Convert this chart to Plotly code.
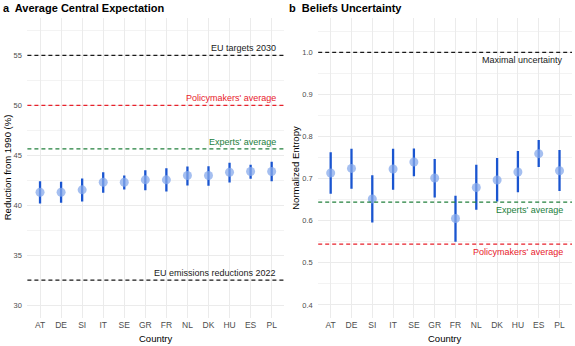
import plotly.graph_objects as go

countries = ["AT", "DE", "SI", "IT", "SE", "GR", "FR", "NL", "DK", "HU", "ES", "PL"]

# Panel a: average central expectation (reduction from 1990, %)
exp_center = [41.3, 41.3, 41.54, 42.3, 42.3, 42.54, 42.54, 42.97, 42.97, 43.3, 43.37, 43.37]
exp_lower = [40.17, 40.24, 40.37, 41.24, 41.57, 41.5, 41.37, 41.97, 41.94, 42.27, 42.64, 42.4]
exp_upper = [42.4, 42.34, 42.67, 43.3, 42.97, 43.5, 43.7, 43.87, 43.9, 44.24, 44.04, 44.34]

# Panel b: normalized entropy
ent_center = [0.7136, 0.7245, 0.652, 0.723, 0.7397, 0.7016, 0.6055, 0.679, 0.697, 0.716, 0.7595, 0.719]
ent_lower = [0.664, 0.676, 0.596, 0.674, 0.7057, 0.6555, 0.55, 0.626, 0.646, 0.668, 0.728, 0.671]
ent_upper = [0.7626, 0.771, 0.708, 0.771, 0.772, 0.747, 0.6595, 0.733, 0.749, 0.766, 0.792, 0.768]

# Reference lines
ref_a_values = [55, 50, 45.64, 32.5]
ref_a_labels = ["EU targets 2030", "Policymakers' average", "Experts' average", "EU emissions reductions 2022"]
ref_a_colors = ["#1a1a1a", "#e8212b", "#22803c", "#1a1a1a"]

ref_b_values = [1.0, 0.6445, 0.5445]
ref_b_labels = ["Maximal uncertainty", "Experts' average", "Policymakers' average"]
ref_b_colors = ["#1a1a1a", "#22803c", "#e8212b"]

W, H = 575, 346
FONT = "Liberation Sans, Arial, sans-serif"
BAR_COLOR = "#1a55d0"
PT_COLOR = "rgba(135,170,235,0.75)"
GRID = "#ebebeb"

def px_x(p):
    return p / W

def px_y(p):
    return 1 - p / H

a_x0, a_x1 = 27.4, 284.3
b_x0, b_x1 = 318.2, 572.0
top, bot = 17.5, 318.0

fig = go.Figure()

def add_panel(center, lower, upper, xa, ya):
    fig.add_trace(go.Scatter(
        x=countries, y=center, mode="markers",
        marker=dict(size=9, color=PT_COLOR, line=dict(width=0)),
        error_y=dict(type="data", symmetric=False,
                     array=[u - c for u, c in zip(upper, center)],
                     arrayminus=[c - l for c, l in zip(center, lower)],
                     color=BAR_COLOR, thickness=2.3, width=0),
        xaxis=xa, yaxis=ya, showlegend=False, hoverinfo="skip"))

add_panel(exp_center, exp_lower, exp_upper, "x", "y")
add_panel(ent_center, ent_lower, ent_upper, "x2", "y2")

xcommon = dict(type="category", categoryorder="array", categoryarray=countries,
               range=[-0.6, 11.6], showgrid=True, gridcolor=GRID, gridwidth=1,
               zeroline=False, showline=False, ticks="", ticklen=0,
               tickfont=dict(family=FONT, size=8.5, color="#4d4d4d"))
ycommon = dict(showgrid=True, gridcolor=GRID, gridwidth=1, zeroline=False,
               showline=False, ticks="outside", ticklen=3, tickcolor="rgba(0,0,0,0)",
               tickfont=dict(family=FONT, size=7.5, color="#4d4d4d"))

fig.update_layout(
    width=W, height=H, margin=dict(l=0, r=0, t=0, b=0),
    paper_bgcolor="white", plot_bgcolor="white",
    font=dict(family=FONT),
    xaxis=dict(domain=[px_x(a_x0), px_x(a_x1)], anchor="y", **xcommon),
    xaxis2=dict(domain=[px_x(b_x0), px_x(b_x1)], anchor="y2", **xcommon),
    yaxis=dict(domain=[px_y(bot), px_y(top)], anchor="x", range=[28.7, 58.8],
               tick0=30, dtick=5,
               minor=dict(dtick=2.5, tick0=30, showgrid=True, gridcolor="#f3f3f3", gridwidth=0.6),
               **ycommon),
    yaxis2=dict(domain=[px_y(bot), px_y(top)], anchor="x2", range=[0.369, 1.083],
                tick0=0.4, dtick=0.1, tickformat=".1f",
                minor=dict(dtick=0.05, tick0=0.4, showgrid=True, gridcolor="#f3f3f3", gridwidth=0.6),
                **ycommon),
)

shapes = []
annotations = []

def add_refs(values, labels, colors, xref, yref, above, xright):
    for v, lab, col, ab in zip(values, labels, colors, above):
        shapes.append(dict(type="line", xref=xref + " domain", yref=yref,
                           x0=0, x1=1, y0=v, y1=v,
                           line=dict(color=col, width=1.3, dash="4px,3px")))
        annotations.append(dict(xref="paper", yref=yref, x=px_x(xright), y=v,
                                text=lab, showarrow=False, xanchor="right",
                                yanchor="bottom" if ab else "top",
                                yshift=0 if ab else -1,
                                font=dict(family=FONT, size=9, color=col)))

add_refs(ref_a_values, ref_a_labels, ref_a_colors, "x", "y",
         [True, True, True, True], 277.5)
add_refs(ref_b_values, ref_b_labels, ref_b_colors, "x2", "y2",
         [False, False, False], 565.0)

# Panel titles
annotations.append(dict(xref="paper", yref="paper", x=px_x(1), y=px_y(8.5),
                        text="<b>a  Average Central Expectation</b>", showarrow=False,
                        xanchor="left", yanchor="middle",
                        font=dict(family=FONT, size=11, color="black")))
annotations.append(dict(xref="paper", yref="paper", x=px_x(287), y=px_y(8.5),
                        text="<b>b  Beliefs Uncertainty</b>", showarrow=False,
                        xanchor="left", yanchor="middle",
                        font=dict(family=FONT, size=11, color="black")))

# Axis titles
annotations.append(dict(xref="paper", yref="paper", x=px_x((a_x0 + a_x1) / 2), y=px_y(338),
                        text="Country", showarrow=False, xanchor="center", yanchor="middle",
                        font=dict(family=FONT, size=9.5, color="black")))
annotations.append(dict(xref="paper", yref="paper", x=px_x((b_x0 + b_x1) / 2), y=px_y(338),
                        text="Country", showarrow=False, xanchor="center", yanchor="middle",
                        font=dict(family=FONT, size=9.5, color="black")))
annotations.append(dict(xref="paper", yref="paper", x=px_x(7.5), y=px_y((top + bot) / 2),
                        text="Reduction from 1990 (%)", showarrow=False, textangle=-90,
                        xanchor="center", yanchor="middle",
                        font=dict(family=FONT, size=9.5, color="black")))
annotations.append(dict(xref="paper", yref="paper", x=px_x(296), y=px_y((top + bot) / 2),
                        text="Normalized Entropy", showarrow=False, textangle=-90,
                        xanchor="center", yanchor="middle",
                        font=dict(family=FONT, size=9.5, color="black")))

fig.update_layout(shapes=shapes, annotations=annotations)
fig.write_html("out.html", config={"displayModeBar": False},
               post_script="document.body.style.margin='0';document.body.style.overflow='hidden';")
